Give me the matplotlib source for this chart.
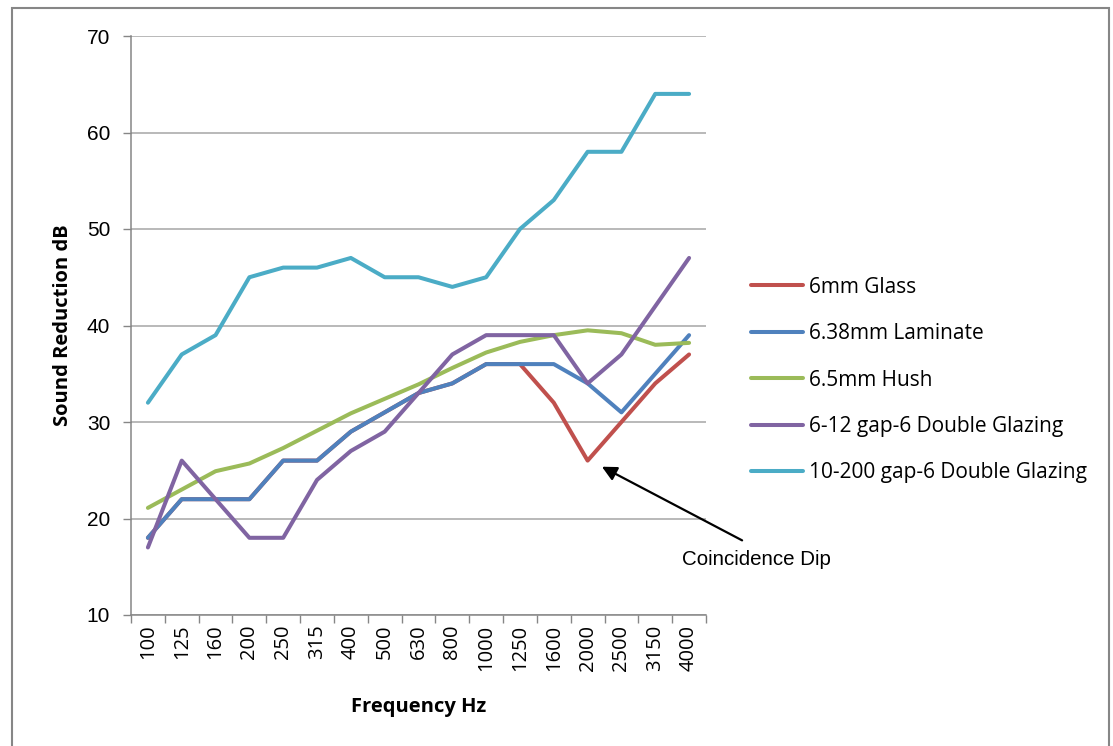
import numpy as np
import matplotlib
matplotlib.use('Agg')
import matplotlib.pyplot as plt
from matplotlib.patches import Rectangle

freqs = ['100', '125', '160', '200', '250', '315', '400', '500', '630', '800',
         '1000', '1250', '1600', '2000', '2500', '3150', '4000']

glass_6mm = [18, 22, 22, 22, 26, 26, 29, 31, 33, 34, 36, 36, 32, 26, 30, 34, 37]
laminate = [18, 22, 22, 22, 26, 26, 29, 31, 33, 34, 36, 36, 36, 34, 31, 35, 39]
hush = [21.1, 23.0, 24.9, 25.7, 27.3, 29.1, 30.9, 32.4, 33.9, 35.6, 37.2, 38.3,
        39.0, 39.5, 39.2, 38.0, 38.2]
double_6_12 = [17, 26, 22, 18, 18, 24, 27, 29, 33, 37, 39, 39, 39, 34, 37, 42, 47]
double_10_200 = [32, 37, 39, 45, 46, 46, 47, 45, 45, 44, 45, 50, 53, 58, 58, 64, 64]

series = [
    ('6mm Glass', glass_6mm, '#C0504D'),
    ('6.38mm Laminate', laminate, '#4F81BD'),
    ('6.5mm Hush', hush, '#9BBB59'),
    ('6-12 gap-6 Double Glazing', double_6_12, '#8064A2'),
    ('10-200 gap-6 Double Glazing', double_10_200, '#4BACC6'),
]

W, H = 1113, 746
fig = plt.figure(figsize=(W / 100, H / 100), dpi=100)
ax = fig.add_axes([131 / W, 1 - 615 / H, (706 - 131) / W, (615 - 36) / H])

x = np.arange(len(freqs))
for name, vals, col in series:
    ax.plot(x, vals, color=col, linewidth=2.9, label=name,
            solid_capstyle='round', solid_joinstyle='round')

ax.set_xlim(-0.5, len(freqs) - 0.5)
ax.set_ylim(10, 70)
ax.set_yticks(np.arange(10, 71, 10))
ax.set_xticks(x)
ax.set_xticklabels(freqs, rotation=90, fontsize=14.5, family='Open Sans')
ax.set_xticks(np.arange(-0.5, len(freqs)), minor=True)
ax.tick_params(axis='x', which='major', length=0, pad=7)
ax.tick_params(axis='x', which='minor', length=6, color='#868686', width=1)
ax.tick_params(axis='y', length=6, color='#868686', width=1, pad=9, labelsize=15)
for lab in ax.get_yticklabels():
    lab.set_family('Liberation Sans')

ax.grid(axis='y', color='#A6A6A6', linewidth=1.1)
ax.set_axisbelow(True)
for s in ['top', 'right']:
    ax.spines[s].set_visible(False)
for s in ['left', 'bottom']:
    ax.spines[s].set_color('#868686')
    ax.spines[s].set_linewidth(1.1)

ax.set_ylabel('Sound Reduction dB', fontsize=14.5, fontweight='bold',
              family='Open Sans', labelpad=10)
ax.set_xlabel('Frequency Hz', fontsize=14.5, fontweight='bold',
              family='Open Sans', labelpad=19)

leg = fig.legend(loc='center left', bbox_to_anchor=(741 / W, 1 - 380 / H),
                 frameon=False, handlelength=2.5, handletextpad=0.25,
                 labelspacing=1.22, borderpad=0,
                 prop={'family': 'Open Sans', 'size': 15})

ax.annotate('', xy=(13.35, 25.5), xytext=(17.64, 17.6), annotation_clip=False,
            arrowprops=dict(arrowstyle='-|>', color='black', lw=1.6,
                            mutation_scale=22))
ax.text(18.0, 15.7, 'Coincidence Dip', fontsize=14.8, family='Liberation Sans',
        ha='center', va='center', clip_on=False)

fig.patches.append(Rectangle((12 / W, -0.1), (1109 - 12) / W, 1 - 8 / H + 0.1,
                             transform=fig.transFigure, fill=False,
                             edgecolor='#868686', linewidth=1.5))

fig.savefig('out.png', dpi=100)
